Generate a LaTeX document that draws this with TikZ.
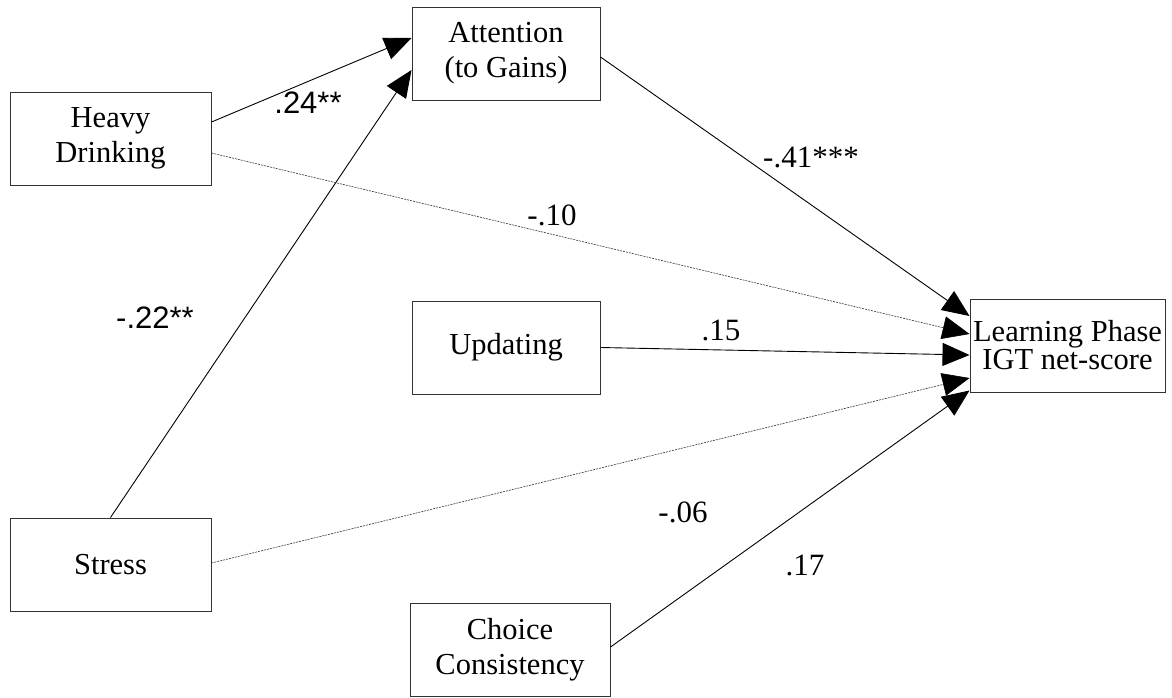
\documentclass[tikz,border=0pt]{standalone}
\usepackage{fontspec}
\setmainfont{Liberation Serif}
\newfontfamily\sansf{Liberation Sans}
\usetikzlibrary{arrows.meta,calc}
\begin{document}
\begin{tikzpicture}[x=1pt,y=-1pt,
  box/.style={draw=black!80, line width=1pt, minimum width=#1, minimum height=93pt,
    inner sep=0pt, align=center, font=\fontsize{30.5}{35}\selectfont},
  arr/.style={line width=0.9pt, -{Triangle[length=27pt,width=23pt]}},
  dotarr/.style={line width=0.6pt, draw=black!80, dash pattern=on 2pt off 1pt,
    -{Triangle[length=27pt,width=23pt,color=black]}},
  lab/.style={font=\fontsize{31}{33}\selectfont, inner sep=0pt},
  labs/.style={font=\sansf\fontsize{31}{33}\selectfont, inner sep=0pt}]
\useasboundingbox (0,0) rectangle (1172,697);
\node[box=201] (hd) at (110.5,138.5) {Heavy\\Drinking};
\node[box=188] (att) at (506,53.5) {Attention\\(to Gains)};
\node[box=188] (upd) at (506,347.5) {Updating};
\node[box=201] (str) at (110.5,564.5) {Stress};
\node[box=200] (cho) at (510,650) {Choice\\Consistency};
\node[box=195, font=\fontsize{30.5}{28}\selectfont] (lrn) at (1067.5,345.5) {Learning Phase\\IGT net-score};

\draw[arr] ($(hd.east)+(0,-16.5)$) -- ($(att.west)+(0,-15.5)$);
\draw[arr] (str.north) -- ($(att.west)+(0,16.5)$);
\draw[dotarr] ($(hd.east)+(0,14.5)$) -- ($(lrn.west)+(0,-11.5)$);
\draw[arr] ($(att.east)+(0,3.5)$) -- ($(lrn.west)+(0,-29.5)$);
\draw[arr] (upd.east) -- ($(lrn.west)+(0,9.5)$);
\draw[dotarr] ($(str.east)+(0,-1.5)$) -- ($(lrn.west)+(0,32.5)$);
\draw[arr] ($(cho.east)+(0,-3)$) -- ($(lrn.west)+(0,45)$);

\node[labs] (l1) at (308,103) {.24**};
\node[labs] (l2) at (155,318) {-.22**};
\node[lab] (l3) at (811,157) {-.41***};
\node[lab] (l4) at (552,215) {-.10};
\node[lab] (l5) at (721,330) {.15};
\node[lab] (l6) at (683,512) {-.06};
\node[lab] (l7) at (805,565) {.17};
\end{tikzpicture}
\end{document}
